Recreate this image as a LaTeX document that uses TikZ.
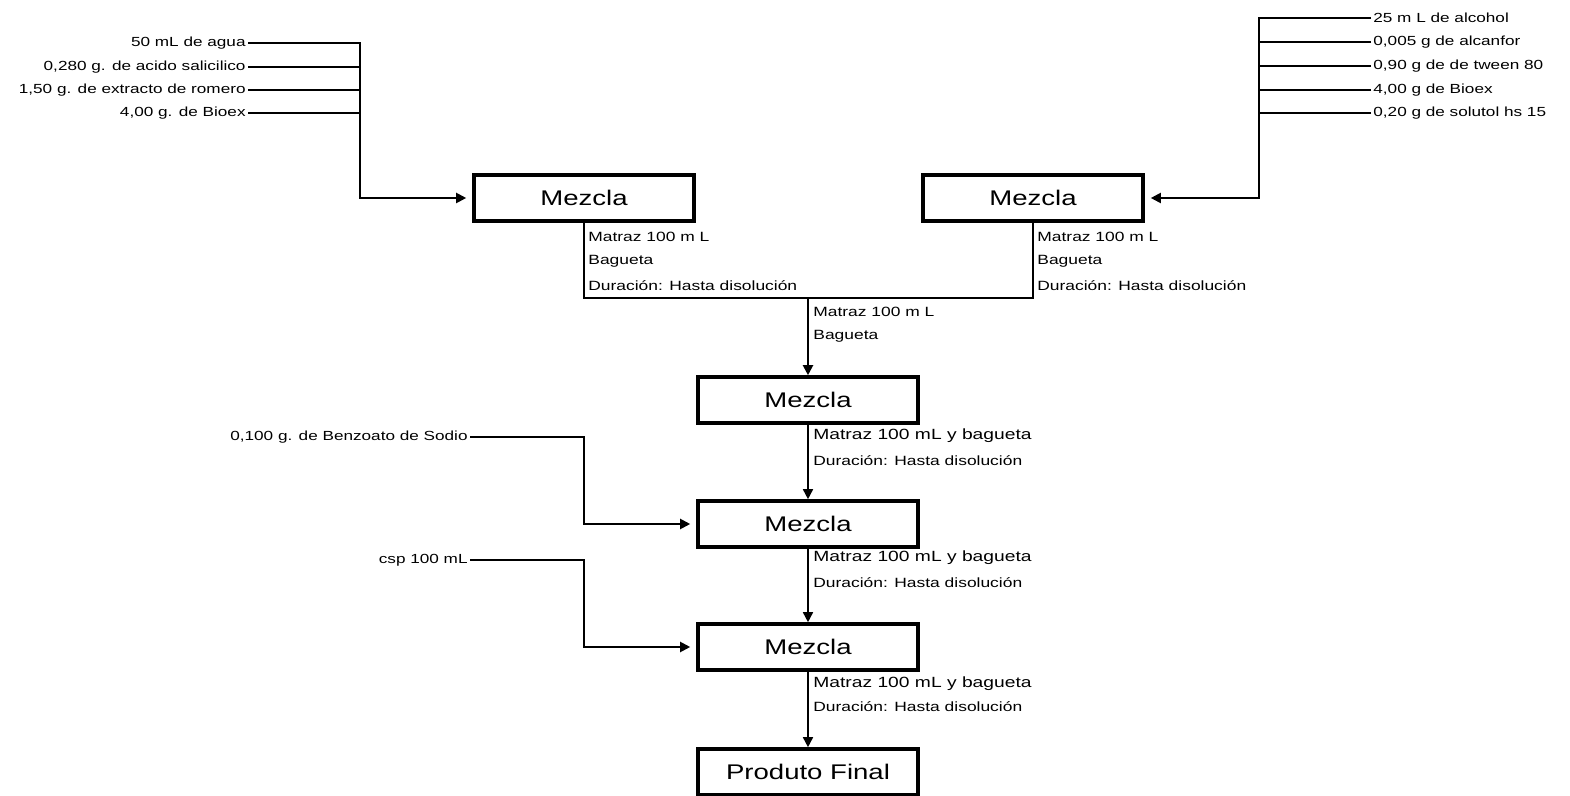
\documentclass[tikz,border=0pt]{standalone}
\usepackage{fontspec}
\setmainfont{Liberation Sans}[FakeStretch=1.3]
\usetikzlibrary{arrows.meta}
\begin{document}
\begin{tikzpicture}[x=0.5pt, y=-0.5pt,
    box/.style={draw, line width=1.8pt, minimum width=110pt, minimum height=23pt, inner sep=0pt, font=\fontsize{10.6}{12}\selectfont},
    ing/.style={inner sep=1pt, font=\fontsize{6.6}{8}\selectfont},
    note/.style={anchor=west, inner sep=1pt, font=\fontsize{6.7}{8}\selectfont},
    notebig/.style={anchor=west, inner sep=1pt, font=\fontsize{7.4}{9}\selectfont},
    arr/.style={-{Triangle[length=5pt, width=5pt]}}]
    \useasboundingbox (0,0) rectangle (1570,796);

    %boxes
    \node[box] (m1) at (584,198) {Mezcla};
    \node[box] (m2) at (1033,198) {Mezcla};
    \node[box] (m3) at (808,400) {Mezcla};
    \node[box] (m4) at (808,524) {Mezcla};
    \node[box] (m5) at (808,647) {Mezcla};
    \node[box] (pf) at (808,772) {Produto Final};

    %left inputs
    \node[ing, anchor=east] (a1) at (248,43) {50 mL de agua};
    \node[ing, anchor=east] (a2) at (248,67) {0,280 g. de acido salicilico};
    \node[ing, anchor=east] (a3) at (248,90) {1,50 g. de extracto de romero};
    \node[ing, anchor=east] (a4) at (248,113) {4,00 g. de Bioex};
    \coordinate (jl) at (360,198);
    \draw[line width=1pt, arr, shorten >=3pt] (a1.east) -| (jl) -- (m1.west);
    \foreach \i in {2,3,4}
        \draw[line width=1pt] (a\i.east) -- (a\i.east -| jl);

    %right inputs
    \node[ing, anchor=west] (b1) at (1371,18) {25 m L de alcohol};
    \node[ing, anchor=west] (b2) at (1371,42) {0,005 g de alcanfor};
    \node[ing, anchor=west] (b3) at (1371,66) {0,90 g de de tween 80};
    \node[ing, anchor=west] (b4) at (1371,90) {4,00 g de Bioex};
    \node[ing, anchor=west] (b5) at (1371,113) {0,20 g de solutol hs 15};
    \coordinate (jr) at (1259,198);
    \draw[line width=1pt, arr, shorten >=3pt] (b1.west) -| (jr) -- (m2.east);
    \foreach \i in {2,...,5}
        \draw[line width=1pt] (b\i.west) -- (b\i.west -| jr);

    %join
    \coordinate (c1) at (584,298);
    \coordinate (c2) at (1033,298);
    \coordinate (c3) at (808,298);
    \draw[line width=1pt] (m1.south) -- (c1) -- (c2) -- (m2.south);
    \draw[line width=1pt, arr] (c3) -- (m3.north);
    \node[note] at (586,237) {Matraz 100 m L};
    \node[note] at (586,261) {Bagueta};
    \node[note] at (586,286) {Duración: Hasta disolución};
    \node[note] at (1035,237) {Matraz 100 m L};
    \node[note] at (1035,261) {Bagueta};
    \node[note] at (1035,286) {Duración: Hasta disolución};
    \node[note] at (811,312) {Matraz 100 m L};
    \node[note] at (811,336) {Bagueta};

    %down the line
    \draw[line width=0.8pt, arr] (m3.south) -- (m4.north);
    \node[notebig] at (811,436) {Matraz 100 mL y bagueta};
    \node[note] at (811,461) {Duración: Hasta disolución};
    \draw[line width=0.8pt, arr] (m4.south) -- (m5.north);
    \node[notebig] at (811,558) {Matraz 100 mL y bagueta};
    \node[note] at (811,583) {Duración: Hasta disolución};
    \draw[line width=0.8pt, arr] (m5.south) -- (pf.north);
    \node[notebig] at (811,684) {Matraz 100 mL y bagueta};
    \node[note] at (811,707) {Duración: Hasta disolución};

    %side inputs
    \node[ing, anchor=east] (s1) at (470,437) {0,100 g. de Benzoato de Sodio};
    \node[ing, anchor=east] (s2) at (470,560) {csp 100 mL};
    \coordinate (k1) at (584,524);
    \coordinate (k2) at (584,647);
    \draw[line width=1pt, arr, shorten >=3pt] (s1.east) -| (k1) -- (m4.west);
    \draw[line width=1pt, arr, shorten >=3pt] (s2.east) -| (k2) -- (m5.west);
\end{tikzpicture}
\end{document}
